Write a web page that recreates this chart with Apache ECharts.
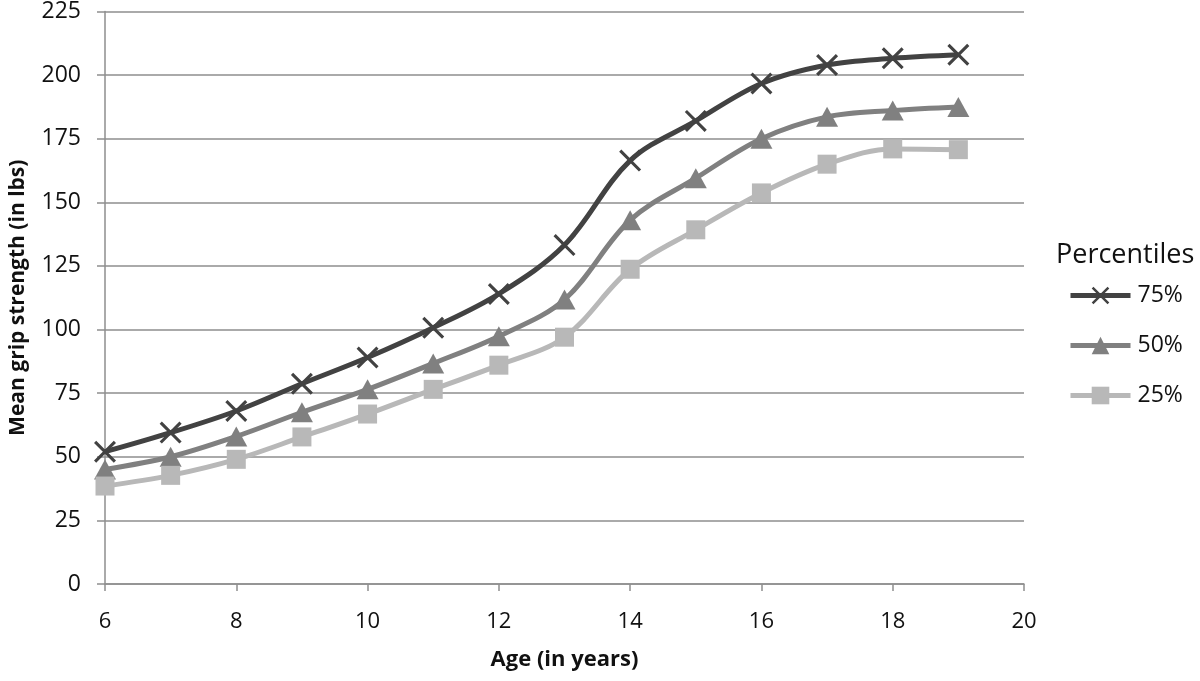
<!DOCTYPE html>
<html>
<head>
<meta charset="utf-8">
<script src="https://cdn.jsdelivr.net/npm/echarts@6/dist/echarts.min.js"></script>
<style>html,body{margin:0;padding:0;background:#fff}#c{width:1200px;height:681px}</style>
</head>
<body>
<div id="c"></div>
<script>
const ages = [6, 7, 8, 9, 10, 11, 12, 13, 14, 15, 16, 17, 18, 19];
const p75 = [52, 59.5, 68, 78.7, 89, 100.7, 114, 133.2, 166.4, 182, 196.7, 204, 206.6, 208];
const p50 = [45, 50, 58, 67.5, 76.5, 86.7, 97.4, 111.8, 143, 159.5, 175, 183.6, 186.1, 187.5];
const p25 = [38.5, 42.7, 49, 57.8, 66.8, 76.5, 86, 97, 123.7, 139.2, 153.7, 165, 171, 170.7];
const seriesNames = ['75%', '50%', '25%'];

const font = '"Open Sans", Lato, "DejaVu Sans", sans-serif';
const gridColor = '#8e8e8e';
const pair = (vals) => ages.map((a, i) => [a, vals[i]]);
const crossPath = 'path://M0,1 L1,0 L10,9 L9,10 Z M9,0 L10,1 L1,10 L0,9 Z';

const chart = echarts.init(document.getElementById('c'), null, {renderer: 'canvas'});
chart.setOption({
  animation: false,
  backgroundColor: '#fff',
  textStyle: {fontFamily: font},
  grid: {left: 101, right: 176, top: 8, bottom: 97, containLabel: false},
  title: {
    text: 'Percentiles', left: 1051, top: 237,
    textStyle: {fontFamily: font, fontSize: 27, fontWeight: 'normal', color: '#111'}
  },
  legend: {
    orient: 'vertical', left: 1063, top: 279,
    itemWidth: 60, itemHeight: 22, itemGap: 27,
    data: seriesNames,
    lineStyle: {width: 5},
    textStyle: {fontFamily: font, fontSize: 23, color: '#111', padding: [0, 0, 0, 2]}
  },
  xAxis: {
    type: 'value', min: 6, max: 20, interval: 2,
    name: 'Age (in years)', nameLocation: 'middle', nameGap: 65,
    nameTextStyle: {fontFamily: font, fontSize: 22, fontWeight: 'bold', color: '#111'},
    axisLine: {show: true, lineStyle: {color: gridColor, width: 1.5}},
    axisTick: {show: true, length: 7, lineStyle: {color: gridColor, width: 1.5}},
    axisLabel: {fontFamily: font, fontSize: 22, color: '#111', margin: 27},
    splitLine: {show: false}
  },
  yAxis: {
    type: 'value', min: 0, max: 225, interval: 25,
    name: 'Mean grip strength (in lbs)', nameLocation: 'middle', nameGap: 76, nameRotate: 90,
    nameTextStyle: {fontFamily: font, fontSize: 21, fontWeight: 'bold', color: '#111'},
    axisLine: {show: true, lineStyle: {color: gridColor, width: 1.5}},
    axisTick: {show: true, length: 8, lineStyle: {color: gridColor, width: 1.5}},
    axisLabel: {fontFamily: font, fontSize: 23, color: '#111', margin: 24},
    splitLine: {show: true, lineStyle: {color: gridColor, width: 1.5}}
  },
  series: [
    {
      name: seriesNames[0], type: 'line', smooth: 0.35, data: pair(p75),
      symbol: crossPath, symbolSize: 22,
      lineStyle: {color: '#424242', width: 5},
      itemStyle: {color: '#424242'}
    },
    {
      name: seriesNames[1], type: 'line', smooth: 0.35, data: pair(p50),
      symbol: 'triangle', symbolSize: [22, 20],
      lineStyle: {color: '#808080', width: 5},
      itemStyle: {color: '#808080'}
    },
    {
      name: seriesNames[2], type: 'line', smooth: 0.35, data: pair(p25),
      symbol: 'rect', symbolSize: 19,
      lineStyle: {color: '#b8b8b8', width: 5},
      itemStyle: {color: '#b8b8b8'}
    }
  ]
});
</script>
</body>
</html>
